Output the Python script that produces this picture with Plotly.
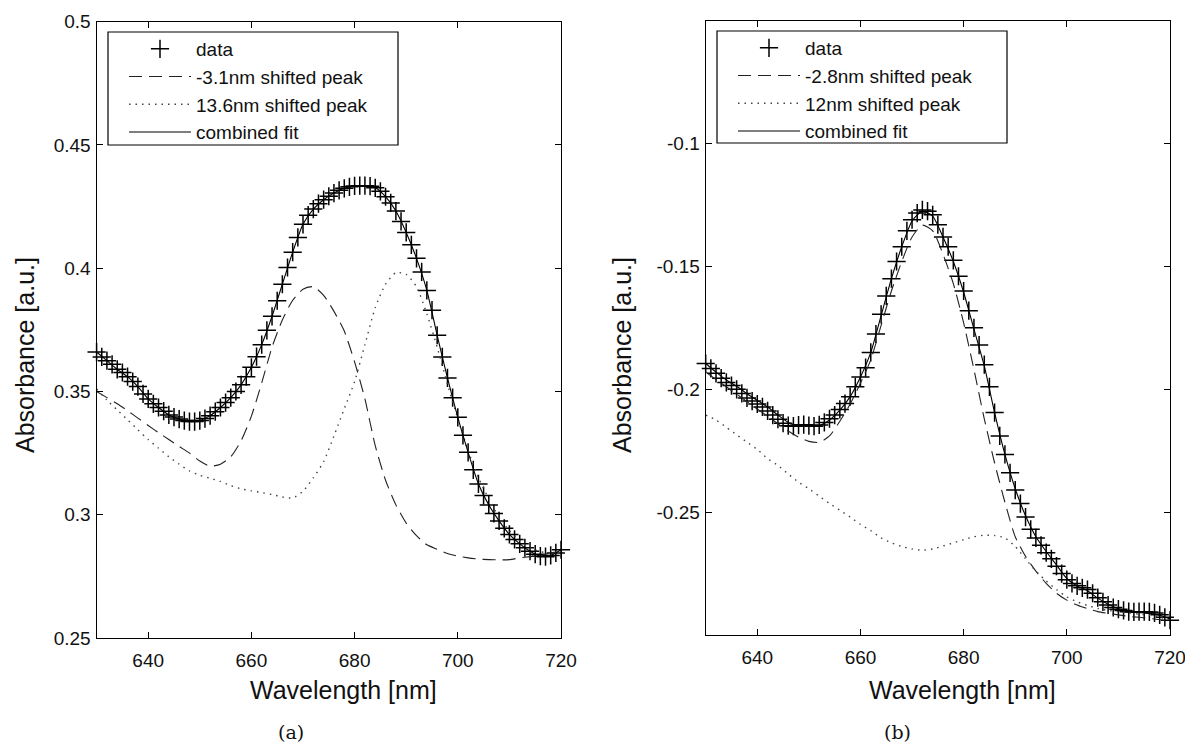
import plotly.graph_objects as go

# ---------------- data ----------------
wl = list(range(630, 721))          # data sampling (nm)
wl_fit = list(range(630, 721, 2))   # fitted-curve sampling (nm)

data_a = [0.366, 0.364, 0.3625, 0.361, 0.359, 0.3577, 0.356, 0.354, 0.352, 0.349,
          0.347, 0.345, 0.3435, 0.342, 0.3405, 0.3396, 0.3388, 0.3382, 0.3378, 0.3378,
          0.3382, 0.339, 0.3402, 0.3418, 0.3435, 0.3455, 0.3475, 0.350, 0.3527, 0.356,
          0.3598, 0.3641, 0.369, 0.3748, 0.3805, 0.3868, 0.3935, 0.4003, 0.4065, 0.4125,
          0.4178, 0.4215, 0.424, 0.4262, 0.4278, 0.4292, 0.4305, 0.4316, 0.4324, 0.433,
          0.4334, 0.4335, 0.4335, 0.4333, 0.4326, 0.4312, 0.429, 0.4265, 0.4232, 0.419,
          0.4145, 0.4095, 0.404, 0.3985, 0.391, 0.383, 0.3728, 0.364, 0.3555, 0.3475,
          0.3395, 0.3322, 0.3253, 0.3182, 0.3125, 0.3078, 0.304, 0.3005, 0.2975, 0.2945,
          0.292, 0.29, 0.2882, 0.2866, 0.2852, 0.284, 0.2832, 0.283, 0.2835, 0.2845,
          0.2858]

dash_a = [0.350, 0.3475, 0.345, 0.3422, 0.3392, 0.3362, 0.3333, 0.3305, 0.3277, 0.325,
          0.3218, 0.3197, 0.3205, 0.3235, 0.330, 0.340, 0.3535, 0.368, 0.379, 0.387,
          0.3915, 0.3925, 0.389, 0.3825, 0.3745, 0.362, 0.347, 0.328, 0.314, 0.304,
          0.2966, 0.2915, 0.2878, 0.286, 0.2843, 0.2832, 0.2825, 0.282, 0.2818, 0.2817,
          0.2818, 0.2825, 0.283, 0.2835, 0.2845, 0.2855]

dot_a = [0.351, 0.3465, 0.3425, 0.3385, 0.3345, 0.3305, 0.327, 0.3235, 0.3205, 0.3178,
         0.316, 0.3148, 0.3135, 0.3118, 0.3105, 0.3097, 0.309, 0.3082, 0.3072, 0.3068,
         0.3095, 0.315, 0.3215, 0.332, 0.343, 0.354, 0.369, 0.384, 0.3935, 0.3982,
         0.3975, 0.3925, 0.3815, 0.368, 0.353, 0.339, 0.326, 0.315, 0.3065, 0.299,
         0.2935, 0.2895, 0.2865, 0.285, 0.2845, 0.285]

fit_a = [0.366, 0.3625, 0.359, 0.356, 0.352, 0.347, 0.3435, 0.3405, 0.3388, 0.3378,
         0.3382, 0.3402, 0.3435, 0.3475, 0.3527, 0.3598, 0.369, 0.3805, 0.3935, 0.4065,
         0.4178, 0.424, 0.4278, 0.4305, 0.4324, 0.4334, 0.4335, 0.4326, 0.429, 0.4232,
         0.4145, 0.404, 0.391, 0.3728, 0.3555, 0.3395, 0.3253, 0.3125, 0.304, 0.2975,
         0.292, 0.2882, 0.2852, 0.2832, 0.2835, 0.2858]

data_b = [-0.1895, -0.1915, -0.1935, -0.1955, -0.1972, -0.1985, -0.2, -0.2017, -0.2035, -0.2048,
          -0.206, -0.2072, -0.2088, -0.2105, -0.2122, -0.2138, -0.2148, -0.215, -0.2146, -0.2144,
          -0.2148, -0.215, -0.2145, -0.2135, -0.212, -0.2105, -0.2082, -0.2058, -0.203, -0.199,
          -0.195, -0.1912, -0.185, -0.1775, -0.1695, -0.162, -0.155, -0.148, -0.142, -0.1355,
          -0.131, -0.1283, -0.127, -0.1275, -0.129, -0.133, -0.138, -0.142, -0.1475, -0.154,
          -0.16, -0.168, -0.175, -0.182, -0.19, -0.199, -0.2095, -0.219, -0.2265, -0.234,
          -0.241, -0.2465, -0.252, -0.257, -0.2605, -0.2635, -0.2665, -0.269, -0.272, -0.275,
          -0.2775, -0.279, -0.28, -0.2808, -0.2815, -0.283, -0.2848, -0.2865, -0.2878, -0.2888,
          -0.2895, -0.29, -0.2905, -0.2906, -0.2905, -0.2905, -0.2906, -0.291, -0.2918, -0.2928,
          -0.294]

dash_b = [-0.193, -0.196, -0.199, -0.202, -0.205, -0.208, -0.211, -0.214, -0.217, -0.2195,
          -0.2212, -0.2216, -0.219, -0.213, -0.206, -0.1975, -0.188, -0.174, -0.160, -0.148,
          -0.138, -0.1332, -0.1355, -0.145, -0.157, -0.173, -0.192, -0.212, -0.230, -0.246,
          -0.260, -0.268, -0.274, -0.279, -0.283, -0.2858, -0.2878, -0.2893, -0.2905, -0.2912,
          -0.2918, -0.2924, -0.2928, -0.2932, -0.2938, -0.2945]

dot_b = [-0.2105, -0.2125, -0.2155, -0.2185, -0.2215, -0.2245, -0.2282, -0.231, -0.2345, -0.2378,
         -0.2405, -0.2435, -0.2465, -0.2492, -0.252, -0.255, -0.2575, -0.2605, -0.2625, -0.264,
         -0.265, -0.2655, -0.265, -0.2638, -0.2625, -0.2612, -0.260, -0.2594, -0.2595, -0.2605,
         -0.264, -0.269, -0.274, -0.278, -0.2815, -0.2845, -0.2865, -0.288, -0.2892, -0.290,
         -0.2905, -0.291, -0.2915, -0.292, -0.2928, -0.2938]

fit_b = [-0.1895, -0.193, -0.1962, -0.1988, -0.2018, -0.2045, -0.2072, -0.2105, -0.2135, -0.2148,
         -0.215, -0.2148, -0.2125, -0.2085, -0.203, -0.195, -0.185, -0.170, -0.155, -0.142,
         -0.1315, -0.1275, -0.1295, -0.138, -0.148, -0.1605, -0.1755, -0.1905, -0.2095, -0.2265,
         -0.2405, -0.2515, -0.260, -0.266, -0.2715, -0.277, -0.280, -0.282, -0.285, -0.2875,
         -0.2893, -0.2903, -0.2908, -0.2912, -0.292, -0.2935]

names_a = ["data", "-3.1nm shifted peak", "13.6nm shifted peak", "combined fit"]
names_b = ["data", "-2.8nm shifted peak", "12nm shifted peak", "combined fit"]

x_ticks = [640, 660, 680, 700, 720]
ya_ticks = [0.25, 0.3, 0.35, 0.4, 0.45, 0.5]
ya_text = ["0.25", "0.3", "0.35", "0.4", "0.45", "0.5"]
yb_ticks = [-0.25, -0.2, -0.15, -0.1]
yb_text = ["-0.25", "-0.2", "-0.15", "-0.1"]

for arr in (data_a, data_b):
    assert len(arr) == len(wl)
for arr in (dash_a, dot_a, fit_a, dash_b, dot_b, fit_b):
    assert len(arr) == len(wl_fit)

# ---------------- figure ----------------
FONT = "Liberation Sans, Arial, Helvetica, sans-serif"
W, H = 1185, 744
fig = go.Figure()


def add_panel(xa, ya, leg, names, data, dash, dot, fit):
    fig.add_trace(go.Scatter(x=wl, y=data, mode="markers", name=names[0],
                             marker=dict(symbol="cross-thin", size=13,
                                         line=dict(color="black", width=1.5)),
                             xaxis=xa, yaxis=ya, legend=leg, cliponaxis=False))
    fig.add_trace(go.Scatter(x=wl_fit, y=dash, mode="lines", name=names[1],
                             line=dict(color="#222", width=1.1, dash="13px,7px",
                                       shape="spline", smoothing=0.6),
                             xaxis=xa, yaxis=ya, legend=leg))
    fig.add_trace(go.Scatter(x=wl_fit, y=dot, mode="lines", name=names[2],
                             line=dict(color="#444", width=1.4, dash="1.5px,5px",
                                       shape="spline", smoothing=0.6),
                             xaxis=xa, yaxis=ya, legend=leg))
    fig.add_trace(go.Scatter(x=wl_fit, y=fit, mode="lines", name=names[3],
                             line=dict(color="black", width=1.1,
                                       shape="spline", smoothing=0.6),
                             xaxis=xa, yaxis=ya, legend=leg))


add_panel("x", "y", "legend", names_a, data_a, dash_a, dot_a, fit_a)
add_panel("x2", "y2", "legend2", names_b, data_b, dash_b, dot_b, fit_b)

axis_common = dict(showline=True, linecolor="black", linewidth=1.2, mirror="ticks",
                   ticks="inside", ticklen=6, tickwidth=1.2, tickcolor="black",
                   showgrid=False, zeroline=False, automargin=False,
                   ticklabeloverflow="allow",
                   tickfont=dict(family=FONT, size=19, color="#111"))

legend_common = dict(bgcolor="rgba(0,0,0,0)", borderwidth=0,
                     font=dict(family=FONT, size=19, color="#111"),
                     itemwidth=62, xanchor="left", yanchor="top",
                     tracegroupgap=0, itemclick=False)

fig.update_layout(
    width=W, height=H,
    margin=dict(l=0, r=0, t=0, b=0, autoexpand=False),
    paper_bgcolor="white", plot_bgcolor="white",
    font=dict(family=FONT, color="#111"),
    showlegend=True,
    xaxis=dict(domain=[96.6 / W, 561 / W], range=[630, 720], tickvals=x_ticks,
               anchor="y", ticklabelstandoff=5, **axis_common),
    yaxis=dict(domain=[1 - 638 / H, 1 - 21.7 / H], range=[0.25, 0.5], tickvals=ya_ticks,
               ticktext=ya_text, anchor="x", ticklabelstandoff=1, **axis_common),
    xaxis2=dict(domain=[705.7 / W, 1170 / W], range=[630, 720], tickvals=x_ticks,
                anchor="y2", ticklabelstandoff=5, **axis_common),
    yaxis2=dict(domain=[1 - 635 / H, 1 - 20.7 / H], range=[-0.30, -0.05], tickvals=yb_ticks,
                ticktext=yb_text, anchor="x2", ticklabelstandoff=1, **axis_common),
    legend=dict(x=124 / W, y=1 - 30 / H, **legend_common),
    legend2=dict(x=733 / W, y=1 - 29 / H, **legend_common),
)

# legend frames
shapes = []
for x0, x1, y0, y1 in ((108, 398, 32, 145), (717, 1007, 31, 143)):
    shapes.append(dict(type="rect", xref="paper", yref="paper",
                       x0=x0 / W, x1=x1 / W, y0=1 - y1 / H, y1=1 - y0 / H,
                       line=dict(color="black", width=1.2), fillcolor="white",
                       layer="above"))
fig.update_layout(shapes=shapes)

ann = []
for cx in (343, 962):
    ann.append(dict(text="Wavelength [nm]", x=cx / W, y=1 - 690 / H, xref="paper",
                    yref="paper", showarrow=False, xanchor="center", yanchor="middle",
                    font=dict(family=FONT, size=25, color="#111")))
for cx in (25, 622):
    ann.append(dict(text="Absorbance [a.u.]", x=cx / W, y=1 - 355 / H, xref="paper",
                    yref="paper", showarrow=False, textangle=-90, xanchor="center",
                    yanchor="middle", font=dict(family=FONT, size=25, color="#111")))
for txt, cx in (("(a)", 291), ("(b)", 897)):
    ann.append(dict(text=txt, x=cx / W, y=1 - 732 / H, xref="paper", yref="paper",
                    showarrow=False, xanchor="center", yanchor="middle",
                    font=dict(family="DejaVu Serif, Liberation Serif, serif", size=19,
                              color="#111")))
fig.update_layout(annotations=ann)

fig.write_html("out.html")
